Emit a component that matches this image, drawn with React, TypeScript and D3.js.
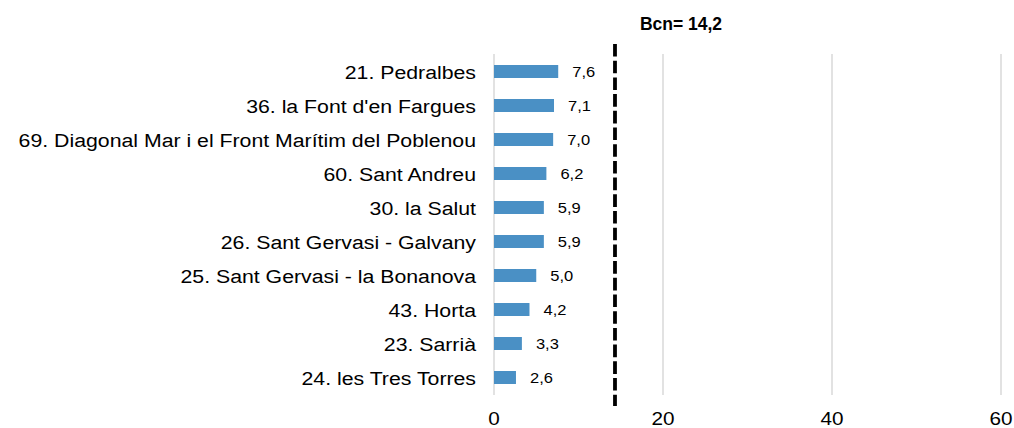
import React from "react";
import * as d3 from "d3";

const categories = [
  "21. Pedralbes",
  "36. la Font d'en Fargues",
  "69. Diagonal Mar i el Front Marítim del Poblenou",
  "60. Sant Andreu",
  "30. la Salut",
  "26. Sant Gervasi - Galvany",
  "25. Sant Gervasi - la Bonanova",
  "43. Horta",
  "23. Sarrià",
  "24. les Tres Torres",
];
const values = [7.6, 7.1, 7.0, 6.2, 5.9, 5.9, 5.0, 4.2, 3.3, 2.6];
const xTicks = [0, 20, 40, 60];
const bcnValue = 14.2;
const bcnLabel = "Bcn= 14,2";

const fmt = (v: number) => v.toFixed(1).replace(".", ",");

export default function App() {
  const W = 1014;
  const H = 428;
  const x = d3.scaleLinear().domain([0, 60]).range([494, 1001]);
  const y = d3
    .scaleBand<string>()
    .domain(categories)
    .range([54.5, 394.5])
    .paddingInner(0.618)
    .paddingOuter(0.309);
  const font = "Arial, 'Liberation Sans', sans-serif";
  return (
    <svg
      width={W}
      height={H}
      style={{ position: "absolute", left: 0, top: 0, background: "#fff" }}
      fontFamily={font}
    >
      {xTicks.map((t) => (
        <g key={t}>
          <line
            x1={x(t)}
            x2={x(t)}
            y1={54}
            y2={395}
            stroke="#d9d9d9"
            strokeWidth={1.5}
          />
          <text
            transform={`translate(${x(t)},425) scale(1.12,1)`}
            textAnchor="middle"
            fontSize={18.5}
            fill="#000"
          >
            {t}
          </text>
        </g>
      ))}
      {categories.map((c, i) => {
        const by = y(c)!;
        const bh = y.bandwidth();
        const cy = by + bh / 2;
        return (
          <g key={c}>
            <rect x={x(0)} y={by} width={x(values[i]) - x(0)} height={bh} fill="#4a90c5" />
            <text
              transform={`translate(${x(values[i]) + 14},${cy + 5.5}) scale(1.1,1)`}
              fontSize={15}
              fill="#000"
            >
              {fmt(values[i])}
            </text>
            <text
              transform={`translate(476,${cy + 7}) scale(1.12,1)`}
              textAnchor="end"
              fontSize={19}
              fill="#000"
            >
              {c}
            </text>
          </g>
        );
      })}
      <line
        x1={x(bcnValue) + 1}
        x2={x(bcnValue) + 1}
        y1={44}
        y2={406}
        stroke="#000"
        strokeWidth={3.8}
        strokeDasharray="12.6,4.1"
      />
      <text x={681} y={30} textAnchor="middle" fontSize={17.5} fontWeight="bold" fill="#000">
        {bcnLabel}
      </text>
    </svg>
  );
}
